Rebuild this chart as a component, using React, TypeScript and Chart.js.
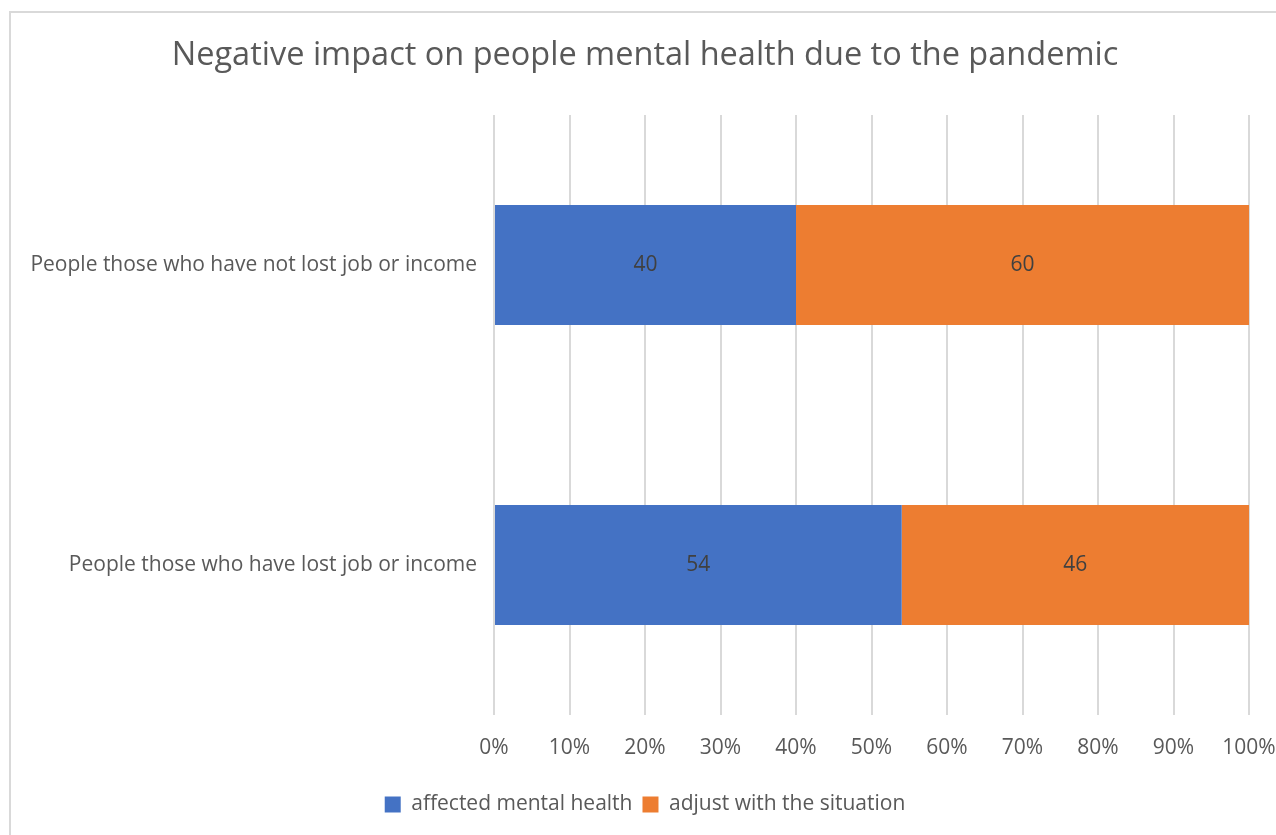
import React, { useEffect, useRef } from "react";
import { Chart, registerables } from "chart.js";

Chart.register(...registerables);

const categories = [
  "People those who have not lost job or income",
  "People those who have lost job or income",
];
const seriesNames = ["affected mental health", "adjust with the situation"];
const affectedValues = [40, 54];
const adjustValues = [60, 46];
const seriesColors = ["#4472C4", "#ED7D31"];
const titleText = "Negative impact on people mental health due to the pandemic";

const FONT = "'Open Sans', sans-serif";
const TEXT = "#595959";

const valueLabels = {
  id: "valueLabels",
  afterDatasetsDraw(chart: any) {
    const ctx = chart.ctx;
    ctx.save();
    ctx.font = `21px ${FONT}`;
    ctx.fillStyle = "#404040";
    ctx.textAlign = "center";
    ctx.textBaseline = "middle";
    chart.data.datasets.forEach((ds: any, i: number) => {
      const meta = chart.getDatasetMeta(i);
      meta.data.forEach((el: any, j: number) => {
        const p = el.getProps(["x", "y", "base"], true);
        ctx.fillText(String(ds.data[j]), (p.x + p.base) / 2, p.y);
      });
    });
    ctx.restore();
  },
};

// widen the y-axis label clip area so long category labels are not cut
const unclipY = {
  id: "unclipY",
  afterLayout(chart: any) {
    if (chart.scales.y) chart.scales.y.left = 0;
  },
};

export default function App() {
  const ref = useRef<HTMLCanvasElement | null>(null);
  useEffect(() => {
    if (!ref.current) return;
    const chart = new Chart(ref.current, {
      type: "bar",
      data: {
        labels: categories,
        datasets: [
          {
            label: seriesNames[0],
            data: affectedValues,
            backgroundColor: seriesColors[0],
            barPercentage: 0.5,
            categoryPercentage: 0.8,
          },
          {
            label: seriesNames[1],
            data: adjustValues,
            backgroundColor: seriesColors[1],
            barPercentage: 0.5,
            categoryPercentage: 0.8,
          },
        ],
      },
      options: {
        indexAxis: "y",
        responsive: false,
        animation: false,
        layout: { padding: { left: 41, right: 27, top: 0, bottom: 10 } },
        plugins: {
          title: {
            display: true,
            text: titleText,
            color: TEXT,
            font: { family: FONT, size: 32.5, weight: "normal" },
            padding: { top: 36, bottom: 40 },
          },
          legend: {
            position: "bottom",
            labels: {
              color: TEXT,
              font: { family: FONT, size: 21 },
              boxWidth: 16,
              boxHeight: 16,
              padding: 10,
            },
          },
          tooltip: { enabled: false },
        },
        scales: {
          x: {
            stacked: true,
            min: 0,
            max: 100,
            border: { display: false },
            grid: { color: "#d9d9d9", lineWidth: 2, drawTicks: false },
            ticks: {
              stepSize: 10,
              color: TEXT,
              font: { family: FONT, size: 21 },
              padding: 20,
              callback: (v: any) => v + "%",
            },
            afterFit: (s: any) => {
              s.height = 69;
              s.paddingLeft = 0;
              s.paddingRight = 0;
            },
          },
          y: {
            stacked: true,
            border: { display: false },
            grid: { display: false, drawTicks: false },
            ticks: {
              color: TEXT,
              font: { family: FONT, size: 21 },
              padding: 17,
            },
            afterFit: (s: any) => {
              s.width = 453;
              s.paddingTop = 0;
              s.paddingBottom = 0;
            },
          },
        },
      },
      plugins: [valueLabels, unclipY],
    });
    return () => chart.destroy();
  }, []);

  return (
    <div>
      <div
        style={{
          position: "fixed",
          left: 9,
          top: 11,
          width: 1400,
          height: 1000,
          borderLeft: "2px solid #d9d9d9",
          borderTop: "2px solid #d9d9d9",
          boxSizing: "border-box",
        }}
      />
      <canvas
        ref={ref}
        width={1276}
        height={835}
        style={{ position: "fixed", left: 0, top: 0, width: 1276, height: 835 }}
      />
    </div>
  );
}
